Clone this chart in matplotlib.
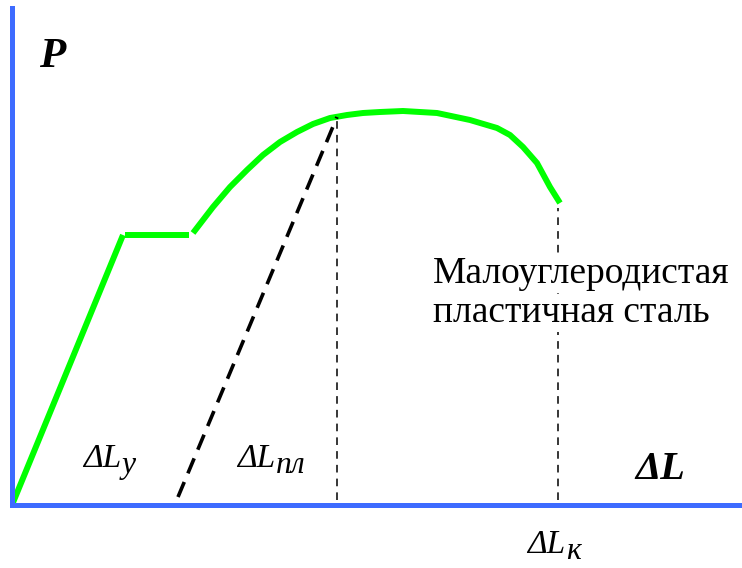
import matplotlib
matplotlib.use('Agg')
import matplotlib.pyplot as plt

plt.rcParams['font.family'] = ['Liberation Serif', 'DejaVu Serif']

BLUE = '#3d6bff'
GREEN = '#00ff00'

# diagram values (dL along x, P along y)
elastic_x = [0, 111]
elastic_y = [0, 270]
yield_x = [113, 177]
yield_y = [270, 270]
harden_x = [181, 201, 218, 235, 251, 268, 285, 301, 318, 335, 351, 368, 391, 425, 458, 485, 498, 511, 525, 538, 548]
harden_y = [272, 298, 318, 335, 350, 363, 373, 381, 387, 390, 392, 393, 394, 392, 385, 377, 370, 358, 342, 318, 302]
unload_x = [166, 325]
unload_y = [8, 388]
peak_x = 325
peak_y = 388
break_x = 546
break_y = 300

fig = plt.figure(figsize=(7.42, 5.68), dpi=100)
ax = fig.add_axes([12 / 742, 63 / 568, 730 / 742, 497 / 568])
ax.set_xlim(0, 730)
ax.set_ylim(0, 497)
for s in ['top', 'right']:
    ax.spines[s].set_visible(False)
for s in ['left', 'bottom']:
    ax.spines[s].set_color(BLUE)
    ax.spines[s].set_linewidth(3.6)
ax.set_xticks([])
ax.set_yticks([])

# green curve, three pieces
ax.plot(elastic_x, elastic_y, color=GREEN, lw=4.3, solid_capstyle='butt')
ax.plot(yield_x, yield_y, color=GREEN, lw=4.3, solid_capstyle='butt')
ax.plot(harden_x, harden_y, color=GREEN, lw=4.3, solid_capstyle='butt',
        solid_joinstyle='round')

# unloading line
ax.plot(unload_x, unload_y, color='black', lw=2.6, dashes=(4.5, 2.6))

# verticals
ax.plot([peak_x, peak_x], [5, peak_y], color='black', lw=1.1, dashes=(5, 4))
ax.plot([break_x, break_x], [5, break_y - 3], color='black', lw=1.1, dashes=(5, 4))

# labels
ax.text(27, 438, 'P', fontsize=31, fontweight='bold', fontstyle='italic')
ax.text(623, 26, 'ΔL', fontsize=29, fontweight='bold', fontstyle='italic')

def dl_label(x, y, sub, size=24):
    t = ax.text(x, y, 'ΔL', fontsize=size, fontstyle='italic', clip_on=False)
    ax.annotate(sub, xy=(1, 0), xycoords=t, xytext=(0.5, -4), textcoords='offset points',
                fontsize=size * 0.95, fontstyle='italic', va='bottom', annotation_clip=False)

dl_label(71, 38, 'у')
dl_label(225, 38, 'пл')
dl_label(515, -48, 'к')

bb = dict(facecolor='white', edgecolor='none', pad=1)
ax.text(421, 222, 'Малоуглеродистая', fontsize=27, bbox=bb)
ax.text(421, 183, 'пластичная сталь', fontsize=27, bbox=bb)

fig.savefig('out.png', dpi=100)
